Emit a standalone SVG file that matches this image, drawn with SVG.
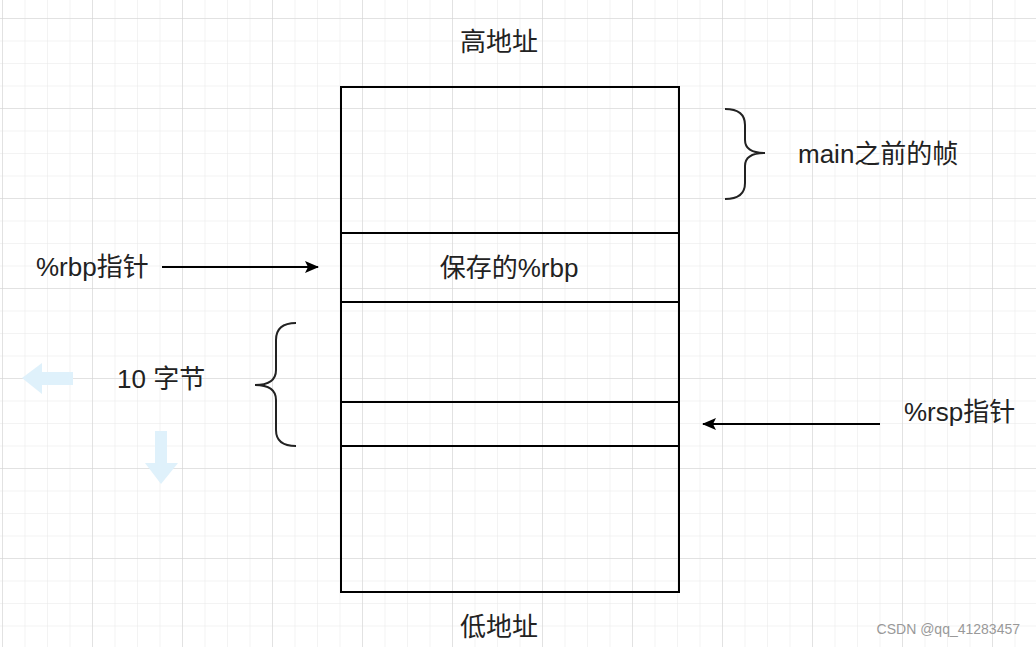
<svg xmlns="http://www.w3.org/2000/svg" width="1036" height="647" viewBox="0 0 1036 647">
<defs>
<pattern id="minor" width="22.5" height="22.5" patternUnits="userSpaceOnUse" x="2" y="18"><path d="M0 0H22.5M0 0V22.5" fill="none" stroke="#e8e8e8" stroke-width="1"/></pattern>
<pattern id="major" width="90" height="90" patternUnits="userSpaceOnUse" x="2" y="18"><path d="M0 0H90M0 0V90" fill="none" stroke="#d2d2d2" stroke-width="1"/></pattern>
<marker id="ah" markerWidth="14" markerHeight="12" refX="13" refY="6" orient="auto" markerUnits="userSpaceOnUse"><path d="M0 0L14 6L0 12L3 6Z" fill="#000"/></marker>
</defs>
<style>
text{font-family:"Liberation Sans","Noto Sans CJK SC",sans-serif;font-size:26px;fill:#222}
.box{fill:none;stroke:#000;stroke-width:2}
.br{fill:none;stroke:#222;stroke-width:2}
.conn{stroke:#000;stroke-width:2;fill:none}
.ghost{fill:#dff1fb}
</style>
<rect width="1036" height="647" fill="#fff"/>
<rect width="1036" height="647" fill="url(#minor)"/>
<rect width="1036" height="647" fill="url(#major)"/>
<g id="ghost-arrows">
<path class="ghost" d="M22 378L42 363V372H73V385H42V394Z"/>
<path class="ghost" d="M155 431H167V463H178L161 484L145 463H155Z"/>
</g>
<g id="stack">
<rect class="box" x="341" y="87" width="338" height="505" fill="#fff"/>
<line class="box" x1="341" y1="233" x2="679" y2="233"/>
<line class="box" x1="341" y1="302" x2="679" y2="302"/>
<line class="box" x1="341" y1="402" x2="679" y2="402"/>
<line class="box" x1="341" y1="446" x2="679" y2="446"/>
<text x="509" y="277" text-anchor="middle">保存的%rbp</text>
</g>
<g id="high"><text x="499" y="51" text-anchor="middle">高地址</text></g>
<g id="low"><text x="499" y="636" text-anchor="middle">低地址</text></g>
<g id="main-brace">
<path class="br" d="M725 109Q745 109 745 125V140Q745 153 765 153Q745 153 745 166V183Q745 199 725 199"/>
<text x="798" y="163">main之前的帧</text>
</g>
<g id="bytes-brace">
<path class="br" d="M296 323Q276 323 276 340V370Q276 385 255 385Q276 385 276 400V430Q276 446 296 446"/>
<text x="117" y="388">10 字节</text>
</g>
<g id="rbp-label"><text x="36" y="276">%rbp指针</text></g>
<g id="rsp-label"><text x="904" y="421">%rsp指针</text></g>
<g id="connectors">
<line class="conn" x1="162" y1="267" x2="318" y2="267" marker-end="url(#ah)"/>
<line class="conn" x1="880" y1="424" x2="703" y2="424" marker-end="url(#ah)"/>
</g>
<text x="1020" y="634" text-anchor="end" style="font-size:14px;fill:#999">CSDN @qq_41283457</text>
</svg>
